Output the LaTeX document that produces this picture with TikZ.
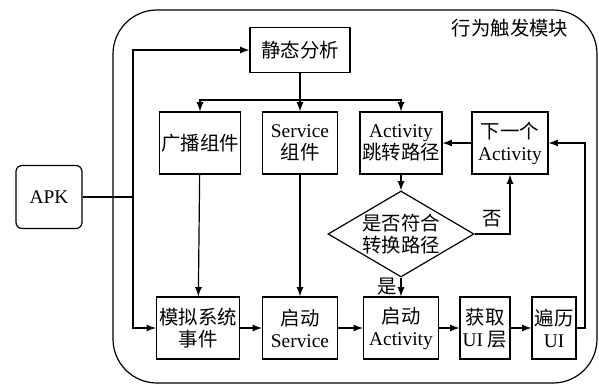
\documentclass[tikz,border=0pt]{standalone}
\usepackage{fontspec}
\setmainfont{Liberation Serif}
\newfontfamily\cjk{Noto Sans CJK SC}
\usetikzlibrary{calc}
\usetikzlibrary{shapes.geometric}
\newcommand{\zh}[1]{{\cjk #1}}
\newcommand{\boxheight}{31pt}
\tikzset{
    >=latex,
    common/.style={draw, line width=0.6pt, align=center, inner sep=1pt,
        font=\fontsize{9.7}{11}\selectfont},
    step-box/.style={common, rectangle, minimum height=\boxheight},
    start-box/.style={common, rectangle, rounded corners=3pt, minimum width=33pt, minimum height=31.5pt},
    decision/.style={common, diamond, aspect=1.7, inner sep=0pt, minimum width=73pt, minimum height=43pt},
    flow/.style={->, line width=0.6pt},
    module/.style={draw, line width=0.6pt, rounded corners=22pt}
}

\begin{document}
\begin{tikzpicture}[x=0.5pt, y=-0.5pt]
  \useasboundingbox (0,0) rectangle (599,385);

  % module frame
  \draw[module] (113,10) rectangle (597,383);
  \node[font=\fontsize{9.7}{11}\selectfont] (title) at (510,28) {\zh{行为触发模块}};

  \node[start-box] (apk) at (49,197) {APK};

  % top part
  \node[step-box, minimum width=50pt, minimum height=22.5pt] (static) at (300,50) {\zh{静态分析}};
  \node[step-box, minimum width=40.5pt] (bcast) at (200,143) {\zh{广播组件}};
  \node[step-box, minimum width=37.5pt] (svc) at (300,143) {Service\\\zh{组件}};
  \node[step-box, minimum width=41pt] (actpath) at (401,143) {Activity\\\zh{跳转路径}};
  \node[step-box, minimum width=38pt] (nextact) at (510,143) {\zh{下一个}\\Activity};
  \node[decision] (check) at (401,234) {\zh{是否符合}\\\zh{转换路径}};

  % bottom row
  \node[step-box, minimum width=41.5pt] (sim) at (198,328) {\zh{模拟系统}\\\zh{事件}};
  \node[step-box, minimum width=37.5pt] (startsvc) at (300,328) {\zh{启动}\\Service};
  \node[step-box, minimum width=37.5pt] (startact) at (401,328) {\zh{启动}\\Activity};
  \node[step-box, minimum width=25pt] (getui) at (485,328) {\zh{获取}\\UI \zh{层}};
  \node[step-box, minimum width=22pt] (trav) at (554,328) {\zh{遍历}\\UI};

  \coordinate (split) at (133,197);
  \coordinate (fork) at (300,100);
  \coordinate (loop) at (585,143);

  \draw[line width=0.6pt] (apk.east) -- (split);
  \draw[flow] (split) |- (static.west);
  \draw[flow] (split) |- (sim.west);

  \draw[line width=0.6pt] (static.south) -- (fork);
  \draw[flow] (fork) -| (bcast.north);
  \draw[flow] (fork) -- (svc.north);
  \draw[flow] (fork) -| (actpath.north);

  \draw[flow] (bcast) -- (sim);
  \draw[flow] (svc) -- (startsvc);
  \draw[flow] (actpath) -- (check);
  \draw[flow] (check.east) -| node[pos=0.25, above, font=\fontsize{9.7}{11}\selectfont] {\zh{否}} (nextact.south);
  \draw[flow] (check.south) -- node[left, inner sep=2pt, font=\fontsize{9.7}{11}\selectfont] {\zh{是}} (startact.north);
  \draw[flow] (nextact) -- (actpath);

  \draw[flow] (sim) -- (startsvc);
  \draw[flow] (startsvc) -- (startact);
  \draw[flow] (startact) -- (getui);
  \draw[flow] (getui) -- (trav);
  \draw[flow] (trav.east) -| (loop) -- (nextact.east);
\end{tikzpicture}
\end{document}
